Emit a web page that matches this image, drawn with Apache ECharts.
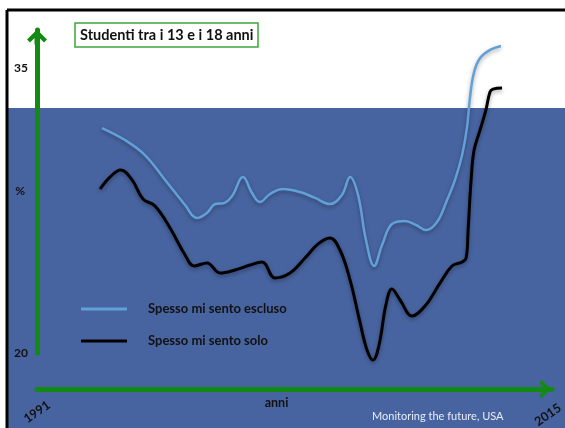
<!DOCTYPE html>
<html>
<head>
<meta charset="utf-8">
<script src="https://cdn.jsdelivr.net/npm/echarts@6/dist/echarts.min.js"></script>
<style>
  html, body { margin: 0; padding: 0; background: #fff; }
  #chart { width: 565px; height: 428px; }
</style>
</head>
<body>
<div id="chart"></div>
<script>
// dati (anno, %)
const esclusoYears = [1994.03, 1995.10, 1996.03, 1996.97, 1997.90, 1998.46, 1998.92, 1999.30, 1999.71, 2000.09,
    2000.60, 2001.02, 2001.39, 2001.86, 2002.46, 2003.26, 2003.96, 2004.65, 2005.21, 2005.59,
    2005.96, 2006.33, 2006.71, 2007.08, 2007.54, 2008.15, 2008.66, 2009.13, 2009.64, 2010.11,
    2010.48, 2010.81, 2011.04, 2011.18, 2011.37, 2011.65, 2012.11, 2012.62];
const esclusoValues = [31.84, 31.21, 30.42, 29.11, 27.79, 27.11, 27.37, 27.84, 27.89, 28.26,
    29.26, 28.42, 27.95, 28.37, 28.63, 28.47, 28.16, 27.84, 28.32, 29.26,
    28.32, 25.95, 24.58, 25.68, 26.79, 26.95, 26.74, 26.47, 26.89, 28.05,
    29.11, 30.42, 31.89, 33.47, 34.79, 35.53, 35.95, 36.16];

const soloYears = [1993.94, 1994.40, 1994.91, 1995.43, 1995.94, 1996.50, 1997.20, 1997.90, 1998.32, 1998.92,
    1999.53, 2000.23, 2000.93, 2001.49, 2002.09, 2002.79, 2003.49, 2004.10, 2004.65, 2005.12,
    2005.59, 2006.05, 2006.38, 2006.66, 2006.94, 2007.26, 2007.54, 2007.92, 2008.48, 2009.08,
    2009.78, 2010.34, 2010.81, 2011.00, 2011.09, 2011.23, 2011.37, 2011.65, 2011.92, 2012.11,
    2012.25, 2012.67];
const soloValues = [28.63, 29.26, 29.63, 29.11, 28.11, 27.74, 26.58, 25.16, 24.58, 24.74,
    24.21, 24.37, 24.63, 24.79, 23.95, 24.21, 25.00, 25.74, 26.05, 25.42,
    23.84, 21.63, 20.16, 19.63, 20.42, 22.53, 23.37, 22.79, 21.95, 22.47,
    23.68, 24.58, 24.79, 25.00, 26.47, 29.11, 30.68, 31.74, 32.79, 33.74,
    33.89, 33.95];

const yearLabels = [1991, 2015];
const valueLabels = [20, 35];
const seriesNames = ['Spesso mi sento escluso', 'Spesso mi sento solo'];

const FONT = 'Lato, "Open Sans", sans-serif';
const GREEN = '#138a13';
const ARROW = 'path://M10,0 L20,10 L17,13 L12.5,8.5 L12.5,15 L7.5,15 L7.5,8.5 L3,13 L0,10 Z';

const pairs = (xs, ys) => xs.map((x, i) => [x, ys[i]]);

const chart = echarts.init(document.getElementById('chart'));
const option = {
    animation: false,
    backgroundColor: '#fff',
    title: {
        text: 'Studenti tra i 13 e i 18 anni',
        left: 75, top: 23,
        padding: [3, 5],
        borderColor: '#3aa63a', borderWidth: 1.5,
        backgroundColor: '#fff',
        textStyle: { fontFamily: FONT, fontWeight: 'bold', fontSize: 14.5, color: '#111', lineHeight: 18 }
    },
    legend: {
        orient: 'vertical',
        left: 81, top: 301,
        padding: 0,
        icon: 'rect',
        itemWidth: 46, itemHeight: 3,
        itemGap: 16,
        data: seriesNames,
        textStyle: { fontFamily: FONT, fontWeight: 'bold', fontSize: 13, color: '#111', lineHeight: 16, padding: [0, 0, 0, 16] }
    },
    grid: { left: 37, right: 13, top: 30, bottom: 75, outerBoundsMode: 'none', containLabel: false },
    xAxis: {
        type: 'value',
        min: 1991, max: 2015, interval: 1,
        offset: 36,
        name: 'anni',
        nameLocation: 'middle',
        nameGap: 7,
        nameMoveOverlap: false,
        nameTextStyle: { fontFamily: FONT, fontWeight: 'bold', fontSize: 12.5, color: '#111', verticalAlign: 'top', padding: [0, 36, 0, 0] },
        axisLine: {
            show: true,
            lineStyle: { color: GREEN, width: 5 },
            symbol: ['none', ARROW],
            symbolSize: [18, 16],
            symbolOffset: [0, -8]
        },
        axisTick: { show: false },
        splitLine: { show: false },
        axisLabel: {
            rotate: 35,
            margin: 23,
            align: 'center',
            verticalAlign: 'middle',
            fontFamily: FONT, fontWeight: 'bold', fontSize: 12.5, color: '#111',
            formatter: v => v === 2015 ? '{end|2015}' : (yearLabels.includes(v) ? String(v) : ''),
            rich: { end: { fontFamily: FONT, fontWeight: 'bold', fontSize: 12.5, color: '#111', padding: [0, 10, 0, 0] } }
        }
    },
    yAxis: {
        type: 'value',
        min: 20, max: 37, interval: 5,
        name: '%',
        nameLocation: 'middle',
        nameRotate: 0,
        nameGap: 12,
        nameMoveOverlap: false,
        nameTextStyle: { fontFamily: FONT, fontWeight: 'bold', fontSize: 12, color: '#111' },
        axisLine: {
            show: true,
            lineStyle: { color: GREEN, width: 5 },
            symbol: ['none', ARROW],
            symbolSize: [20, 15],
            symbolOffset: [0, -7]
        },
        axisTick: { show: false },
        splitLine: { show: false },
        axisLabel: {
            margin: 9,
            fontFamily: FONT, fontWeight: 'bold', fontSize: 12, color: '#111',
            formatter: v => valueLabels.includes(v) ? String(v) : ''
        }
    },
    graphic: {
        elements: [
            { type: 'rect', z: -10, shape: { x: 8, y: 108, width: 557, height: 320 }, style: { fill: '#4864a0' } },
            { type: 'line', z: -9, shape: { x1: 7, y1: 10, x2: 565, y2: 10 }, style: { stroke: '#000', lineWidth: 3 } },
            { type: 'line', z: -9, shape: { x1: 7, y1: 10, x2: 7, y2: 428 }, style: { stroke: '#000', lineWidth: 3 } },
            {
                type: 'text', left: 372, top: 411,
                style: { text: 'Monitoring the future, USA', fill: '#e8edf6', font: '11px Lato, sans-serif' }
            }
        ]
    },
    series: [
        {
            name: seriesNames[0],
            type: 'line',
            data: pairs(esclusoYears, esclusoValues),
            smooth: 0.4,
            symbol: 'none',
            clip: false,
            color: '#62a0d9',
            lineStyle: { width: 2.5, color: '#62a0d9', shadowColor: 'rgba(0,0,0,0.35)', shadowBlur: 4, shadowOffsetY: 2 }
        },
        {
            name: seriesNames[1],
            type: 'line',
            data: pairs(soloYears, soloValues),
            smooth: 0.4,
            symbol: 'none',
            clip: false,
            color: '#000',
            lineStyle: { width: 3, color: '#000', shadowColor: 'rgba(0,0,0,0.35)', shadowBlur: 4, shadowOffsetY: 2 }
        }
    ]
};
chart.setOption(option);
window.addEventListener('resize', () => chart.resize());
</script>
</body>
</html>
